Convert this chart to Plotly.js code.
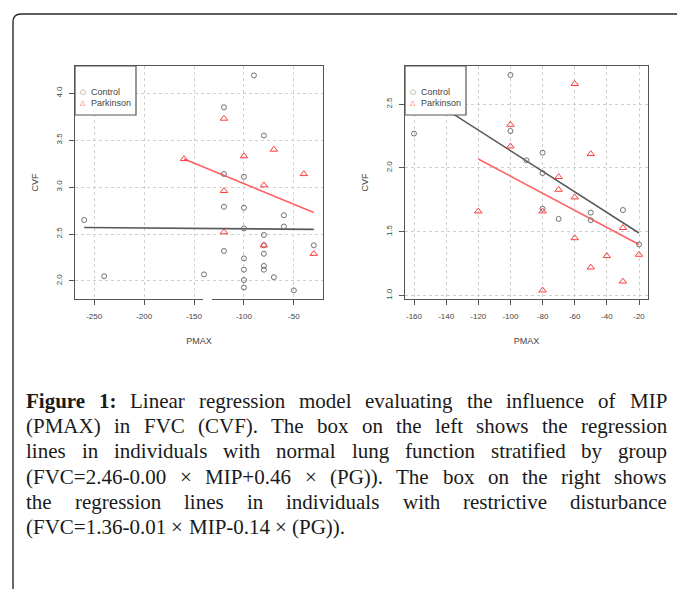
<!DOCTYPE html>
<html><head><meta charset="utf-8">
<script src="https://cdn.plot.ly/plotly-3.0.1.min.js"></script>
<style>html,body{margin:0;padding:0;background:#fff}#chart{width:677px;height:589px}</style>
</head><body><div id="chart"></div>
<script>
// ---- Left panel: normal lung function ----
const leftCtrlX = [-260,-240,-140,-120,-120,-120,-120,-100,-100,-100,-100,-100,-100,-100,-90,-80,-80,-80,-80,-80,-80,-70,-60,-60,-50,-30];
const leftCtrlY = [2.65,2.05,2.07,3.85,3.14,2.79,2.32,3.11,2.78,2.56,2.24,2.12,2.01,1.93,4.19,3.55,2.49,2.38,2.29,2.16,2.12,2.04,2.70,2.58,1.90,2.38];
const leftPkX = [-160,-120,-120,-120,-100,-80,-80,-70,-40,-30];
const leftPkY = [3.30,3.73,2.96,2.52,3.33,3.02,2.38,3.40,3.14,2.29];
const leftCtrlLineX = [-260,-30];
const leftCtrlLineY = [2.57,2.55];
const leftPkLineX = [-160,-30];
const leftPkLineY = [3.30,2.73];

// ---- Right panel: restrictive disturbance ----
const rightCtrlX = [-160,-100,-100,-90,-80,-80,-80,-70,-50,-50,-30,-20];
const rightCtrlY = [2.27,2.73,2.29,2.06,2.12,1.96,1.68,1.60,1.65,1.59,1.67,1.40];
const rightPkX = [-120,-100,-100,-80,-80,-70,-70,-60,-60,-60,-50,-50,-40,-30,-30,-20];
const rightPkY = [1.66,2.34,2.17,1.66,1.04,1.93,1.83,2.66,1.77,1.45,2.11,1.22,1.31,1.53,1.11,1.32];
const rightCtrlLineX = [-160,-20];
const rightCtrlLineY = [2.62,1.49];
const rightPkLineX = [-120,-20];
const rightPkLineY = [2.07,1.40];

// ---- Ticks ----
const leftXTicks = [-250,-200,-150,-100,-50];
const leftXLabels = ["-250","-200","-150","-100","-50"];
const leftYTicks = [2.0,2.5,3.0,3.5,4.0];
const leftYLabels = ["2.0","2.5","3.0","3.5","4.0"];
const rightXTicks = [-160,-140,-120,-100,-80,-60,-40,-20];
const rightXLabels = ["-160","-140","-120","-100","-80","-60","-40","-20"];
const rightYTicks = [1.0,1.5,2.0,2.5];
const rightYLabels = ["1.0","1.5","2.0","2.5"];

const groupNames = ["Control","Parkinson"];
const xTitle = "PMAX";
const yTitle = "CVF";

// ---- Caption ----
const captionBoldWords = 2;
const captionLines = [
  "Figure 1: Linear regression model evaluating the influence of MIP",
  "(PMAX) in FVC (CVF). The box on the left shows the regression",
  "lines in individuals with normal lung function stratified by group",
  "(FVC=2.46-0.00 × MIP+0.46 × (PG)). The box on the right shows",
  "the regression lines in individuals with restrictive disturbance",
  "(FVC=1.36-0.01 × MIP-0.14 × (PG))."
];

const W = 677, H = 589;
const px = x => x / W;
const py = y => 1 - y / H;

const GRAY = '#707070', RED = '#ff3a3a';
const axisCol = '#555';
const tickFont = {family: 'Liberation Sans, Arial, sans-serif', size: 8, color: '#444'};
const titleFont = {family: 'Liberation Sans, Arial, sans-serif', size: 9, color: '#444'};

function xAxis(dom, range, tv, tt, anchor) {
  return {domain: dom, range: range, tickvals: tv, ticktext: tt, ticks: 'outside', ticklen: 5,
    tickcolor: axisCol, tickwidth: 1, showline: true, linecolor: axisCol, linewidth: 1.2, mirror: true,
    showgrid: true, gridcolor: '#cfcfcf', griddash: 'dot', gridwidth: 1, zeroline: false,
    tickfont: tickFont, ticklabelstandoff: 4, anchor: anchor, fixedrange: true,
    title: {text: xTitle, font: titleFont, standoff: 18}};
}
function yAxis(dom, range, tv, tt, anchor) {
  return {domain: dom, range: range, tickvals: tv, ticktext: tt, ticks: 'outside', ticklen: 5,
    tickcolor: axisCol, tickwidth: 1, showline: true, linecolor: axisCol, linewidth: 1.2, mirror: true,
    showgrid: true, gridcolor: '#cfcfcf', griddash: 'dot', gridwidth: 1, zeroline: false,
    tickfont: tickFont, tickangle: -90, ticklabelstandoff: 4, anchor: anchor, fixedrange: true,
    title: {text: yTitle, font: titleFont, standoff: 14}};
}

const yDom = [py(299), py(66)];
const mkPts = (x, y, ax, ay, sym, col, size) => ({x: x, y: y, xaxis: ax, yaxis: ay, type: 'scatter', mode: 'markers',
  marker: {symbol: sym, size: size, color: col, line: {color: col, width: 1}}, showlegend: false, hoverinfo: 'skip'});
const mkLine = (x, y, ax, ay, col) => ({x: x, y: y, xaxis: ax, yaxis: ay, type: 'scatter', mode: 'lines',
  line: {color: col, width: 1.6}, showlegend: false, hoverinfo: 'skip'});

const data = [
  mkLine(leftCtrlLineX, leftCtrlLineY, 'x', 'y', '#5a5a5a'),
  mkLine(leftPkLineX, leftPkLineY, 'x', 'y', '#ff6262'),
  mkPts(leftCtrlX, leftCtrlY, 'x', 'y', 'circle-open', GRAY, 5),
  mkPts(leftPkX, leftPkY, 'x', 'y', 'triangle-up-open', RED, 6.5),
  mkLine(rightCtrlLineX, rightCtrlLineY, 'x2', 'y2', '#5a5a5a'),
  mkLine(rightPkLineX, rightPkLineY, 'x2', 'y2', '#ff6262'),
  mkPts(rightCtrlX, rightCtrlY, 'x2', 'y2', 'circle-open', GRAY, 5),
  mkPts(rightPkX, rightPkY, 'x2', 'y2', 'triangle-up-open', RED, 6.5)
];

const shapes = [];
const annotations = [];

// outer rounded frame
shapes.push({type: 'path', xref: 'paper', yref: 'paper', layer: 'above',
  path: `M ${px(677)},${py(14)} L ${px(21)},${py(14)} Q ${px(13)},${py(14)} ${px(13)},${py(22)} L ${px(13)},${py(589)}`,
  line: {color: '#2a2a2a', width: 1.4}});

// small gap in left bottom axis
shapes.push({type: 'line', xref: 'paper', yref: 'paper', layer: 'above',
  x0: px(203), x1: px(212), y0: py(299), y1: py(299), line: {color: '#ffffff', width: 3}});

// legends
[75, 405].forEach(lx => {
  shapes.push({type: 'rect', xref: 'paper', yref: 'paper', layer: 'above',
    x0: px(lx), x1: px(lx + 61), y0: py(115), y1: py(66),
    fillcolor: '#ffffff', line: {color: axisCol, width: 1.2}});
  annotations.push({xref: 'paper', yref: 'paper', x: px(lx + 8), y: py(92), xanchor: 'center', yanchor: 'middle',
    text: '○', showarrow: false, font: {family: 'DejaVu Sans', size: 7, color: GRAY}});
  annotations.push({xref: 'paper', yref: 'paper', x: px(lx + 8), y: py(103.5), xanchor: 'center', yanchor: 'middle',
    text: '△', showarrow: false, font: {family: 'DejaVu Sans', size: 7, color: RED}});
  annotations.push({xref: 'paper', yref: 'paper', x: px(lx + 14), y: py(92), xanchor: 'left', yanchor: 'middle',
    text: groupNames[0], showarrow: false, font: {family: 'Liberation Sans, Arial', size: 9, color: '#444'}});
  annotations.push({xref: 'paper', yref: 'paper', x: px(lx + 14), y: py(103.5), xanchor: 'left', yanchor: 'middle',
    text: groupNames[1], showarrow: false, font: {family: 'Liberation Sans, Arial', size: 9, color: '#444'}});
});

// caption, justified
const capL = 25, capR = 666, capTop = 401, capStep = 25.2;
const fam = 'Liberation Serif';
const ctx = document.createElement('canvas').getContext('2d');
function wWidth(word, size, bold) { ctx.font = (bold ? 'bold ' : '') + size + 'px "' + fam + '"'; return ctx.measureText(word).width; }
const words = captionLines.map(l => l.split(' '));
const isBold = (li, wi) => li === 0 && wi < captionBoldWords;
let maxNat = 0;
words.forEach((ws, li) => {
  let t = 0; ws.forEach((w, wi) => { t += wWidth(w, 100, isBold(li, wi)); });
  t += (ws.length - 1) * wWidth(' ', 100, false);
  maxNat = Math.max(maxNat, t);
});
const fs = Math.min(21, (capR - capL) / maxNat * 100);
words.forEach((ws, li) => {
  const widths = ws.map((w, wi) => wWidth(w, fs, isBold(li, wi)));
  const tot = widths.reduce((a, b) => a + b, 0);
  const last = li === words.length - 1;
  const gap = last ? wWidth(' ', fs, false) : (capR - capL - tot) / (ws.length - 1);
  let x = capL;
  ws.forEach((w, wi) => {
    annotations.push({xref: 'paper', yref: 'paper', x: px(x - 1), y: py(capTop + li * capStep), xanchor: 'left', yanchor: 'middle',
      text: isBold(li, wi) ? '<b>' + w + '</b>' : w, showarrow: false,
      font: {family: fam + ', Times New Roman, serif', size: fs, color: '#1a1a1a'}});
    x += widths[wi] + gap;
  });
});

const layout = {
  width: W, height: H, margin: {l: 0, r: 0, t: 0, b: 0},
  paper_bgcolor: '#fff', plot_bgcolor: '#fff', showlegend: false,
  xaxis: xAxis([px(75), px(323)], [-269.2, -20.8], leftXTicks, leftXLabels, 'y'),
  yaxis: yAxis(yDom, [1.808, 4.29], leftYTicks, leftYLabels, 'x'),
  xaxis2: xAxis([px(405), px(648)], [-165.6, -14.4], rightXTicks, rightXLabels, 'y2'),
  yaxis2: yAxis(yDom, [0.972, 2.80], rightYTicks, rightYLabels, 'x2'),
  shapes: shapes, annotations: annotations
};

Plotly.newPlot('chart', data, layout, {displayModeBar: false, staticPlot: true});
</script>
</body></html>
